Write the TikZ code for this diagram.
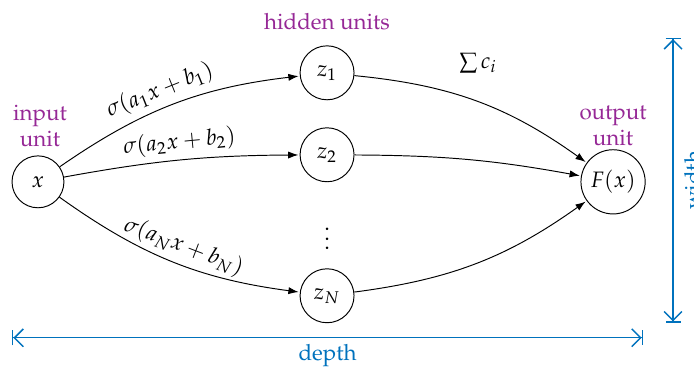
\documentclass[tikz,border=0pt]{standalone}
\usepackage[T1]{fontenc}
\usepackage{mathpazo}
\usepackage{tikz}
\usetikzlibrary{arrows.meta}
\usetikzlibrary{calc}
\definecolor{unitpurple}{RGB}{150,40,150}
\definecolor{dimblue}{RGB}{0,114,189}
\tikzset{
    unit/.style={draw, circle, minimum size=0.79cm, inner sep=0pt},
    edge/.style={-{Latex[length=1.5mm,width=1.05mm]}, shorten >=0.5pt},
    unitlabel/.style={text=unitpurple, align=center},
    dimline/.style={dimblue, semithick, {Bar[width=2.2mm]Straight Barb[length=1.3mm]}-{Straight Barb[length=1.3mm]Bar[width=2.2mm]}}
}
\newcommand{\drawedge}{\draw[edge]}
\begin{document}
\begin{tikzpicture}[font=\fontsize{9.3pt}{11pt}\selectfont]
        \useasboundingbox (0, 0) rectangle (10.16, 5.37);

        % Draw units
        \node[unit, minimum size=0.76cm] (x) at (0.556, 2.708) {$x$};
        \node[unit] (z1) at (4.788, 4.304) {$z_1$};
        \node[unit] (z2) at (4.788, 3.104) {$z_2$};
        \node (dots) at (4.788, 1.977) {$\vdots$};
        \node[unit] (zN) at (4.788, 1.040) {$z_N$};
        \node[unit, minimum size=0.94cm] (F) at (8.975, 2.708) {$F(x)$};

        % Draw labels
        \node[unitlabel] (in) at (0.586, 3.53) {input\\unit};
        \node[unitlabel] (out) at (8.975, 3.53) {output\\unit};
        \node[unitlabel] (hid) at (4.788, 5.05) {hidden units};
        \node (sum) at (7.0, 4.45) {$\sum c_i$};

        % Draw edges
        \drawedge (x) to[bend left=14] node[sloped, above=-1pt, pos=0.47] {$\sigma(a_1x+b_1)$} (z1);
        \drawedge (x) to[bend left=5] node[sloped, above=-1pt, pos=0.5] {$\sigma(a_2x+b_2)$} (z2);
        \drawedge (x) to[bend right=14] node[sloped, above=-1pt, pos=0.52] {$\sigma(a_Nx+b_N)$} (zN);
        \drawedge (z1) to[bend left=15] (F);
        \drawedge (z2) to[bend left=5] (F);
        \drawedge (zN) to[bend right=14] (F);

        % Draw dimensions
        \coordinate (dl) at (0.176, 0.425);
        \coordinate (dr) at (9.414, 0.425);
        \coordinate (wt) at (9.853, 4.817);
        \coordinate (wb) at (9.853, 0.644);
        \draw[dimline] (dl) -- (dr) node[midway, below=-1pt, text=dimblue] (depth) {depth};
        \draw[dimline] (wb) -- (wt) node[midway, rotate=90, below=1pt, anchor=north, text=dimblue] (width) {width};
    \end{tikzpicture}
\end{document}
